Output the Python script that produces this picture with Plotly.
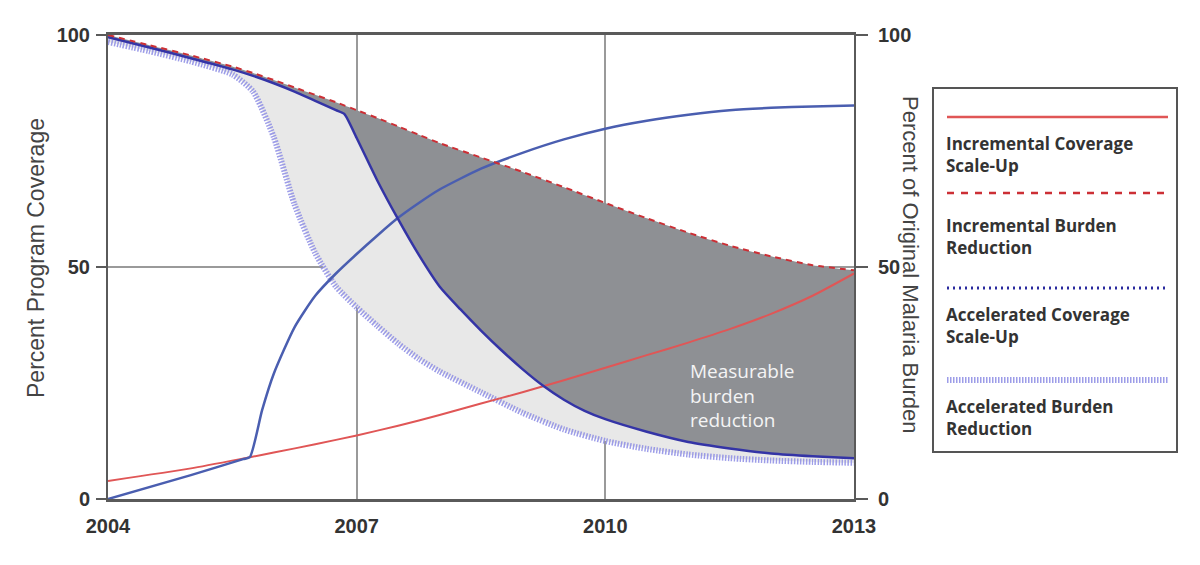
import plotly.graph_objects as go

# ---------------- data ----------------
years_inc_cov = [2004, 2005, 2005.71, 2006, 2006.5, 2007, 2007.5, 2008, 2008.5, 2009, 2009.5,
                 2010, 2010.5, 2011, 2011.5, 2012, 2012.5, 2013]
inc_cov = [3.9, 6.6, 9.0, 10.0, 11.8, 13.7, 15.8, 18.1, 20.6, 23.0, 25.6,
           28.3, 31.0, 33.7, 36.6, 39.9, 43.8, 48.6]

years_acc_cov = [2004, 2005, 2005.63, 2005.71, 2005.86, 2006, 2006.25, 2006.5, 2006.75, 2007, 2007.25,
                 2007.5, 2007.75, 2008, 2008.5, 2009, 2009.5, 2010, 2010.5, 2011, 2011.5,
                 2012, 2012.5, 2013]
acc_cov = [0.0, 5.15, 8.6, 9.0, 19.2, 27.0, 37.0, 43.8, 48.6, 52.8, 56.8,
           60.6, 63.8, 66.7, 71.2, 74.6, 77.5, 79.8, 81.5, 82.8, 83.8,
           84.3, 84.6, 84.8]

years_inc_bur = [2004, 2004.5, 2005, 2005.5, 2005.75, 2006, 2006.25, 2006.5, 2006.75, 2007,
                 2007.25, 2007.5, 2007.75, 2008, 2008.5, 2009, 2009.5, 2010, 2010.5, 2011,
                 2011.5, 2012, 2012.5, 2013]
inc_bur = [100.0, 97.8, 95.6, 93.2, 91.8, 90.3, 88.7, 87.1, 85.5, 83.8,
           82.1, 80.3, 78.5, 76.7, 73.6, 70.5, 67.2, 63.8, 60.5, 57.4,
           54.6, 52.3, 50.4, 49.3]

years_mid_bur = [2004, 2004.5, 2005, 2005.5, 2005.75, 2006, 2006.25, 2006.5, 2006.75, 2006.85,
                 2007, 2007.25, 2007.5, 2007.75, 2008, 2008.25, 2008.5, 2008.75, 2009, 2009.25,
                 2009.5, 2009.75, 2010, 2010.5, 2011, 2011.5, 2012, 2012.5, 2013]
mid_bur = [99.5, 97.3, 95.0, 92.6, 91.2, 89.6, 87.8, 85.8, 83.8, 83.0,
           77.8, 68.6, 60.3, 52.6, 45.8, 40.9, 36.3, 32.0, 28.0, 24.4,
           21.4, 19.0, 17.2, 14.5, 12.3, 10.9, 9.8, 9.2, 8.8]

years_acc_bur = [2004, 2004.5, 2005, 2005.5, 2005.75, 2006, 2006.25, 2006.5, 2006.75, 2007,
                 2007.25, 2007.5, 2007.75, 2008, 2008.5, 2009, 2009.5, 2010, 2010.5, 2011,
                 2011.5, 2012, 2012.5, 2013]
acc_bur = [98.5, 96.5, 94.3, 91.5, 87.8, 78.0, 63.5, 53.0, 45.8, 41.3,
           37.3, 33.5, 30.2, 27.5, 23.0, 18.6, 15.0, 12.5, 10.8, 9.6,
           8.8, 8.3, 8.0, 7.8]

x_ticks = [2004, 2007, 2010, 2013]
y_ticks = [0, 50, 100]

legend_labels = ["Incremental Coverage<br>Scale-Up",
                 "Incremental Burden<br>Reduction",
                 "Accelerated Coverage<br>Scale-Up",
                 "Accelerated Burden<br>Reduction"]

# ---------------- styles ----------------
RED_SOLID = "#e05656"
RED_DASH = "#cc2f35"
BLUE_COV = "#4a5eb0"
BLUE_BUR = "#3434a6"
BLUE_DOT = "#2a2a9e"
HATCH = "rgba(140,140,228,0.85)"
DARK_FILL = "#8e9094"
LIGHT_FILL = "#e8e8e8"
TEXT = "#333333"
SPL = dict(shape="spline", smoothing=0.6)

fig = go.Figure()

# fills (no lines)
fig.add_trace(go.Scatter(x=years_acc_bur, y=acc_bur, mode="lines", line=dict(width=0, **SPL),
                         showlegend=False, hoverinfo="skip"))
fig.add_trace(go.Scatter(x=years_mid_bur, y=mid_bur, mode="lines", line=dict(width=0, **SPL),
                         fill="tonexty", fillcolor=LIGHT_FILL,
                         showlegend=False, hoverinfo="skip"))
fig.add_trace(go.Scatter(x=years_inc_bur, y=inc_bur, mode="lines", line=dict(width=0, **SPL),
                         fill="tonexty", fillcolor=DARK_FILL,
                         showlegend=False, hoverinfo="skip"))

# lines
fig.add_trace(go.Scatter(x=years_acc_bur, y=acc_bur, mode="lines",
                         line=dict(color=HATCH, width=6, dash="1.5px,1.5px", **SPL),
                         showlegend=False))
fig.add_trace(go.Scatter(x=years_inc_cov, y=inc_cov, mode="lines",
                         line=dict(color=RED_SOLID, width=2, **SPL),
                         showlegend=False))
fig.add_trace(go.Scatter(x=years_acc_cov, y=acc_cov, mode="lines",
                         line=dict(color=BLUE_COV, width=2.5, **SPL),
                         showlegend=False))
fig.add_trace(go.Scatter(x=years_mid_bur, y=mid_bur, mode="lines",
                         line=dict(color=BLUE_BUR, width=2.5, **SPL),
                         showlegend=False))
fig.add_trace(go.Scatter(x=years_inc_bur, y=inc_bur, mode="lines",
                         line=dict(color=RED_DASH, width=2, dash="6px,5px", **SPL),
                         showlegend=False))
# invisible trace so the right-hand axis is drawn
fig.add_trace(go.Scatter(x=[2004, 2013], y=[0, 100], mode="lines", line=dict(width=0),
                         yaxis="y2", showlegend=False, hoverinfo="skip"))

# ---------------- layout ----------------
# page-pixel geometry of the plot area (page has an 8px body margin)
L, R, T, B = 108, 854, 35, 499
OFF = 8
W, H = 1184, 549


def px(xp):
    return (xp - L) / (R - L)


def py(yp):
    return (B - yp) / (B - T)


tick_font = dict(family="Liberation Sans, Arial, sans-serif", size=20, color=TEXT, weight=700)

fig.update_layout(
    width=W, height=H,
    margin=dict(l=L - OFF, r=W - (R - OFF), t=T - OFF, b=H - (B - OFF)),
    paper_bgcolor="white", plot_bgcolor="white",
    showlegend=False,
    xaxis=dict(range=[2004, 2013], tickvals=x_ticks, ticktext=[str(v) for v in x_ticks],
               showgrid=True, gridcolor="#9a9a9a", gridwidth=1.5,
               showline=True, linecolor="#5a5a5a", linewidth=2.5, mirror=True,
               ticks="outside", ticklen=7, tickcolor="rgba(0,0,0,0)",
               zeroline=False, tickfont=tick_font),
    yaxis=dict(range=[0, 100], tickvals=y_ticks, showgrid=True, gridcolor="#9a9a9a", gridwidth=1.5,
               showline=True, linecolor="#5a5a5a", linewidth=2, ticks="outside", ticklen=10,
               tickcolor="#5a5a5a", tickwidth=1.5, zeroline=False, tickfont=tick_font,
               ticklabelstandoff=2),
    yaxis2=dict(range=[0, 100], tickvals=y_ticks, overlaying="y", side="right", showgrid=False,
                showline=True, linecolor="#5a5a5a", linewidth=2, ticks="outside", ticklen=12,
                tickcolor="#5a5a5a", tickwidth=1.5, zeroline=False, tickfont=tick_font,
                ticklabelstandoff=6),
)

annotations = [
    dict(text="Percent Program Coverage", x=px(36), y=py(258), xref="paper", yref="paper",
         textangle=-90, showarrow=False, xanchor="center", yanchor="middle",
         font=dict(family="Liberation Sans, Arial, sans-serif", size=23, color="#444444")),
    dict(text="Percent of Original Malaria Burden", x=px(911), y=py(265), xref="paper", yref="paper",
         textangle=90, showarrow=False, xanchor="center", yanchor="middle",
         font=dict(family="Liberation Sans, Arial, sans-serif", size=22, color="#444444")),
    dict(text="Measurable<br>burden<br>reduction", x=2011, y=22.2, xref="x", yref="y",
         showarrow=False, align="left", xanchor="left", yanchor="middle",
         font=dict(family="Open Sans, sans-serif", size=19, color="#f4f4f4")),
]

legend_font = dict(family="Open Sans, sans-serif", size=17, color=TEXT, weight=700)
text_centers = [154, 237, 325, 417.5]
for lab, yc in zip(legend_labels, text_centers):
    annotations.append(dict(text=lab, x=px(944), y=py(yc), xref="paper", yref="paper",
                            showarrow=False, align="left", xanchor="left", yanchor="middle",
                            font=legend_font))
fig.update_layout(annotations=annotations)

shapes = [
    dict(type="rect", xref="paper", yref="paper", x0=px(933), x1=px(1177), y0=py(452), y1=py(88),
         line=dict(color="#555555", width=2), fillcolor="rgba(0,0,0,0)", layer="above"),
    dict(type="line", xref="paper", yref="paper", x0=px(947), x1=px(1168), y0=py(117), y1=py(117),
         line=dict(color=RED_SOLID, width=2.5)),
    dict(type="line", xref="paper", yref="paper", x0=px(947), x1=px(1168), y0=py(193), y1=py(193),
         line=dict(color=RED_DASH, width=2.5, dash="7px,7px")),
    dict(type="line", xref="paper", yref="paper", x0=px(947), x1=px(1168), y0=py(288), y1=py(288),
         line=dict(color=BLUE_DOT, width=3, dash="2px,4px")),
    dict(type="line", xref="paper", yref="paper", x0=px(947), x1=px(1168), y0=py(380), y1=py(380),
         line=dict(color=HATCH, width=6, dash="1.5px,1.5px")),
]
fig.update_layout(shapes=shapes)

fig.write_html("out.html")
